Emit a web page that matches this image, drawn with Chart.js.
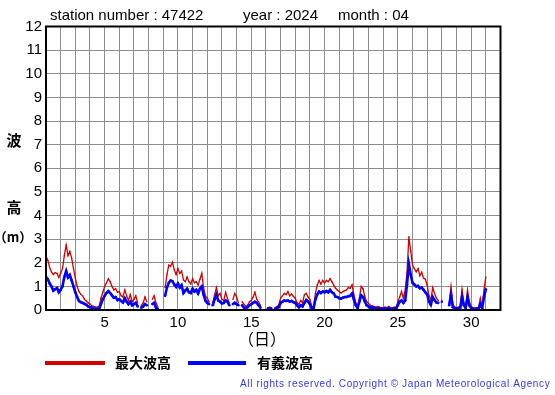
<!DOCTYPE html>
<html>
<head>
<meta charset="utf-8">
<script src="https://cdn.jsdelivr.net/npm/chart.js@4.4.1/dist/chart.umd.min.js"></script>
<style>
  html, body { margin: 0; padding: 0; background: #fff; }
  canvas { display: block; }
</style>
</head>
<body>
<canvas id="wave" width="555" height="395"></canvas>
<script>
// 3-hourly samples, April 2024, one row per day (null = missing)
var START_DAY = 1;
var STEP = 1 / 8;

var maxWave = [
  2.3, 2.1, 1.8, 1.6, 1.5, 1.58, 1.55, 1.38,
  1.55, 1.75, 2.3, 2.75, 2.3, 2.48, 2.2, 1.75,
  1.35, 1.0, 0.78, 0.66, 0.6, 0.45, 0.38, 0.3,
  0.25, 0.18, 0.15, 0.12, 0.12, 0.15, 0.5, 0.75,
  1.0, 1.15, 1.32, 1.2, 1.0, 0.85, 0.9, 0.75,
  0.78, 0.6, 0.55, 0.85, 0.6, 0.4, 0.65, 0.35,
  0.45, 0.6, 0.3, null, 0.2, 0.3, 0.55, 0.35,
  null, null, 0.45, 0.6, 0.3, 0.15, null, null,
  null, 0.95, 1.5, 1.9, 1.85, 2.02, 1.7, 1.5,
  1.75, 1.55, 1.65, 1.27, 1.2, 1.4, 1.2, 1.1,
  1.32, 1.15, 1.2, 1.06, 1.3, 1.55, 0.95, 0.6,
  0.5, 0.35, null, 0.3, 0.65, 0.95, 0.6, 0.7,
  0.45, 0.4, 0.75, 0.5, 0.3, null, 0.45, 0.7,
  0.55, 0.3, null, 0.35, 0.25, 0.15, 0.2, 0.35,
  0.4, 0.55, 0.75, 0.45, 0.35, 0.2, null, null,
  null, 0.1, 0.12, 0.1, null, 0.1, 0.15, 0.2,
  0.5, 0.6, 0.7, 0.65, 0.78, 0.6, 0.68, 0.58,
  0.5, 0.3, 0.25, 0.4, 0.3, 0.65, 0.7, 0.55,
  0.45, 0.15, 0.08, 0.7, 1.05, 1.25, 1.1, 1.25,
  1.15, 1.25, 1.2, 1.32, 1.2, 1.05, 0.92, 0.85,
  0.78, 0.72, 0.78, 0.82, 0.85, 0.95, 0.92, 1.06,
  0.65, 0.3, 0.15, 0.5, 1.0, 0.9, 0.55, 0.35,
  0.28, 0.2, 0.18, 0.15, 0.12, 0.15, 0.12, 0.1,
  0.1, 0.12, 0.1, 0.15, 0.1, 0.08, 0.12, 0.1,
  0.35, 0.55, 0.78, 0.5, 0.85, 1.6, 3.1, 2.5,
  1.9, 1.75, 1.62, 1.75, 1.45, 1.6, 1.35, 1.3,
  1.05, 0.6, 0.42, 0.95, 0.7, 0.5, 0.4, null,
  0.42, null, null, null, 0.3, 1.0, 0.25, 0.12,
  0.1, 0.12, 0.15, 0.88, 0.3, 0.12, 0.85, 0.35,
  0.15, 0.1, 0.08, 0.1, 0.1, 0.5, 0.15, 0.85,
  1.4
];

var sigWave = [
  1.4, 1.3, 1.12, 1.0, 0.82, 0.88, 0.93, 0.75,
  0.85, 1.0, 1.4, 1.65, 1.38, 1.48, 1.25, 1.0,
  0.75, 0.55, 0.38, 0.33, 0.3, 0.26, 0.22, 0.15,
  0.12, 0.1, 0.07, 0.05, 0.05, 0.05, 0.25, 0.45,
  0.6, 0.72, 0.8, 0.72, 0.62, 0.52, 0.55, 0.42,
  0.45, 0.38, 0.32, 0.5, 0.35, 0.25, 0.35, 0.2,
  0.25, 0.3, 0.15, null, 0.1, 0.15, 0.25, 0.2,
  null, null, 0.25, 0.3, 0.1, 0.05, null, null,
  null, 0.6, 0.95, 1.15, 1.25, 1.22, 1.08, 0.98,
  1.12, 0.95, 1.05, 0.72, 0.82, 0.9, 0.75, 0.72,
  0.9, 0.78, 0.85, 0.7, 0.9, 1.0, 0.65, 0.4,
  0.3, 0.25, null, 0.2, 0.45, 0.65, 0.4, 0.35,
  0.28, 0.3, 0.4, 0.35, 0.2, null, 0.25, 0.3,
  0.25, 0.2, null, 0.2, 0.1, 0.08, 0.12, 0.2,
  0.25, 0.3, 0.35, 0.3, 0.2, 0.1, null, null,
  null, 0.05, 0.06, 0.05, null, 0.05, 0.08, 0.12,
  0.3, 0.35, 0.4, 0.38, 0.4, 0.36, 0.38, 0.33,
  0.3, 0.2, 0.12, 0.2, 0.15, 0.3, 0.42, 0.35,
  0.25, 0.08, 0.05, 0.45, 0.65, 0.78, 0.72, 0.78,
  0.75, 0.8, 0.75, 0.85, 0.75, 0.7, 0.56, 0.55,
  0.5, 0.48, 0.52, 0.55, 0.55, 0.58, 0.6, 0.7,
  0.45, 0.2, 0.08, 0.35, 0.62, 0.55, 0.35, 0.2,
  0.15, 0.1, 0.1, 0.08, 0.06, 0.08, 0.07, 0.05,
  0.05, 0.06, 0.05, 0.08, 0.05, 0.04, 0.06, 0.05,
  0.2, 0.35, 0.4, 0.3, 0.4, 1.1, 1.95, 1.5,
  1.15, 1.08, 1.0, 1.02, 0.92, 0.95, 0.85, 0.75,
  0.65, 0.35, 0.22, 0.55, 0.42, 0.32, 0.3, null,
  0.35, null, null, null, 0.2, 0.62, 0.12, 0.08,
  0.06, 0.06, 0.08, 0.55, 0.2, 0.08, 0.55, 0.2,
  0.08, 0.05, 0.04, 0.05, 0.05, 0.25, 0.08, 0.55,
  0.88
];

var titleParts = ['station number : 47422', 'year : 2024', 'month : 04'];
var yTitle = ['波', '高', '（m）'];
var xTitle = '（日）';
var seriesNames = ['最大波高', '有義波高'];
var copyright = 'All rights reserved. Copyright \u00a9 Japan Meteorological Agency';

var RED = '#d40000';
var BLUE = '#0000ff';
var LATIN = '"Liberation Sans", Arial, sans-serif';
var CJK = '"Noto Sans CJK JP", sans-serif';

function toPoints(values) {
  return values.map(function (v, i) {
    return { x: START_DAY + i * STEP, y: v };
  });
}

var decorations = {
  id: 'decorations',
  afterDraw: function (chart) {
    var ctx = chart.ctx, a = chart.chartArea;
    ctx.save();

    // frame
    ctx.strokeStyle = '#000';
    ctx.lineWidth = 2;
    ctx.strokeRect(a.left, a.top, a.right - a.left, a.bottom - a.top);

    ctx.fillStyle = '#000';
    ctx.textBaseline = 'middle';

    // header
    ctx.font = '15px ' + LATIN;
    ctx.textAlign = 'left';
    ctx.fillText(titleParts[0], 50, 16);
    ctx.fillText(titleParts[1], 243, 16);
    ctx.fillText(titleParts[2], 338, 16);

    // y title, stacked
    ctx.textAlign = 'center';
    ctx.font = 'bold 15px ' + CJK;
    ctx.fillText(yTitle[0], 14, 140);
    ctx.fillText(yTitle[1], 14, 207);
    ctx.font = 'bold 13px ' + CJK;
    ctx.fillText(yTitle[2], 13, 237);

    // x title
    ctx.font = '16px ' + CJK;
    ctx.fillText(xTitle, 262, 339);

    // legend
    ctx.lineWidth = 4;
    ctx.strokeStyle = RED;
    ctx.beginPath(); ctx.moveTo(45, 363); ctx.lineTo(105, 363); ctx.stroke();
    ctx.strokeStyle = BLUE;
    ctx.beginPath(); ctx.moveTo(188, 363); ctx.lineTo(246, 363); ctx.stroke();
    ctx.textAlign = 'left';
    ctx.font = 'bold 14px ' + CJK;
    ctx.fillText(seriesNames[0], 115, 363);
    ctx.fillText(seriesNames[1], 257, 363);

    // copyright, stretched to its width
    ctx.font = '10px ' + LATIN;
    ctx.fillStyle = '#3636ee';
    var w = ctx.measureText(copyright).width;
    var spacing = (310 - w) / copyright.length;
    if ('letterSpacing' in ctx) {
      ctx.letterSpacing = spacing.toFixed(2) + 'px';
    }
    ctx.fillText(copyright, 240, 384);

    ctx.restore();
  }
};

new Chart(document.getElementById('wave'), {
  type: 'line',
  data: {
    datasets: [{
      label: seriesNames[1],
      data: toPoints(sigWave),
      borderColor: BLUE,
      backgroundColor: BLUE,
      borderWidth: 2.6,
      pointRadius: 1.3,
      pointBorderWidth: 0,
      tension: 0,
      spanGaps: false,
      order: 0
    }, {
      label: seriesNames[0],
      data: toPoints(maxWave),
      borderColor: RED,
      backgroundColor: RED,
      borderWidth: 1.3,
      pointRadius: 0.7,
      pointBorderWidth: 0,
      tension: 0,
      spanGaps: false,
      order: 1
    }]
  },
  options: {
    responsive: false,
    animation: false,
    events: [],
    layout: {
      padding: { left: 0, top: 26.5, right: 54.5, bottom: 55 }
    },
    plugins: {
      legend: { display: false },
      tooltip: { enabled: false }
    },
    scales: {
      x: {
        type: 'linear',
        min: 1,
        max: 32,
        afterFit: function (s) { s.height = 30; },
        border: { display: false },
        grid: { color: '#8c8c8c', lineWidth: 1, drawTicks: false },
        ticks: {
          stepSize: 1,
          autoSkip: false,
          maxRotation: 0,
          padding: 4,
          color: '#000',
          font: { family: LATIN, size: 15 },
          callback: function (v) { return v % 5 === 0 ? String(v) : ''; }
        }
      },
      y: {
        min: 0,
        max: 12,
        afterFit: function (s) { s.width = 46; },
        border: { display: false },
        grid: { color: '#8c8c8c', lineWidth: 1, drawTicks: false },
        ticks: {
          stepSize: 1,
          padding: 4,
          color: '#000',
          font: { family: LATIN, size: 15 }
        }
      }
    }
  },
  plugins: [decorations]
});
</script>
</body>
</html>
